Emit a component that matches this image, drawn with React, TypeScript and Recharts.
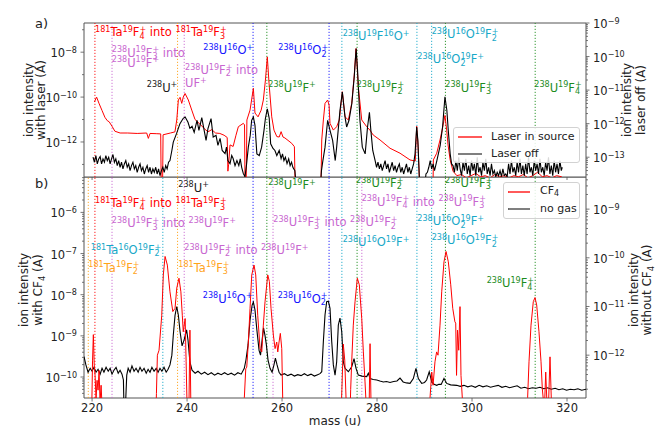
import React from "react";
import { LineChart, Line, XAxis, YAxis, ReferenceLine, ReferenceDot, ReferenceArea, Legend } from "recharts";

const FONT = '"DejaVu Sans", Verdana, sans-serif';
const RED = "#ff0000";
const ORCHID = "#c866d0";
const BLUE = "#1414ff";
const GREEN = "#1c8c1c";
const CYAN = "#17a8c8";
const ORANGE = "#ffa31a";
const INK = "#1a1a1a";
const AXC = "#555";

// ---------------- axes ----------------
const X0 = 218.3;
const X1 = 324.0;
const massTicks = [220, 240, 260, 280, 300, 320];
const aLeftDomain = [-13.56, -6.7];
const aRightDomain = [-13.59, -9.0];
const bLeftDomain = [-10.51, -5.14];
const bRightDomain = [-12.88, -8.34];
const aLeftMajors = [-12, -10, -8];
const aLeftMinors = [-13, -11, -9, -7];
const aRightMajors = [-13, -12, -11, -10, -9];
const bLeftMajors = [-10, -9, -8, -7, -6];
const bRightMajors = [-12, -11, -10, -9];

// ---------------- data: [mass (u), log10 current (A)] ----------------
// panel a, left axis: laser in source
const laserInSource: [number, number][] = [
  [220.48, -10.22], [220.95, -10.0], [221.5, -10.3], [222.1, -10.6], [222.7, -10.9], [223.2, -11.05], [223.6, -11.1],
  [224.2, -11.3], [224.8, -11.52], [225.9, -11.6], [227.5, -11.6], [229.5, -11.62], [231.5, -11.6], [231.85, -11.84],
  [232.2, -11.62], [233.5, -11.63], [234.45, -11.64], [234.55, -13.8], [234.85, -13.8], [234.95, -11.68], [236.5, -11.6],
  [237.45, -11.55], [237.83, -11.02], [238.17, -10.13], [238.53, -10.01], [238.88, -10.28], [239.2, -10.0], [239.58, -9.84],
  [240.27, -10.13], [240.99, -10.58], [241.68, -11.0], [242.7, -11.2], [243.6, -11.4], [244.4, -11.55], [245.2, -11.45],
  [246.0, -11.6], [246.9, -11.62], [247.8, -11.7], [248.45, -11.8], [248.6, -13.3], [248.75, -13.0], [249.05, -12.13],
  [249.7, -12.2], [250.3, -11.7], [250.8, -11.32], [251.85, -11.17], [252.1, -11.24], [252.2, -13.8], [252.45, -13.8],
  [252.6, -11.02], [253.26, -10.58], [253.96, -9.61], [254.3, -10.71], [254.95, -10.88], [255.6, -10.58], [256.06, -10.13],
  [256.5, -9.24], [256.9, -8.21], [257.26, -9.38], [257.83, -10.88], [258.3, -11.47], [258.9, -11.76], [259.4, -11.78],
  [259.8, -11.54], [260.2, -11.78], [260.6, -11.82], [262.04, -12.06], [262.6, -12.21], [262.74, -13.8], [268.2, -13.8],
  [268.36, -11.91], [268.7, -11.02], [269.05, -10.28], [269.6, -10.13], [269.9, -10.36], [270.1, -11.17], [270.8, -11.47],
  [271.5, -11.32], [272.06, -11.02], [272.69, -9.76], [273.26, -10.88], [273.96, -11.02], [274.67, -10.28], [275.2, -9.02],
  [275.58, -7.84], [276.06, -9.54], [276.78, -11.02], [277.83, -11.32], [278.5, -11.47], [279.2, -11.69], [280.63, -11.91],
  [282.74, -12.28], [284.84, -12.5], [286.95, -12.8], [288.05, -12.85], [288.35, -11.3], [288.65, -12.2], [288.9, -13.54],
  [289.1, -13.8], [291.8, -13.8], [291.86, -12.8], [292.57, -12.5], [293.26, -11.91], [293.7, -11.47], [294.3, -10.82],
  [294.67, -11.47], [294.95, -12.13], [295.4, -12.8], [296.0, -13.3], [296.8, -13.5], [297.8, -13.45], [298.8, -13.6],
  [299.8, -13.5], [300.8, -13.4], [301.8, -13.55], [302.8, -13.5], [303.8, -13.6], [304.8, -13.45], [305.8, -13.55],
  [306.8, -13.5], [307.8, -13.6], [308.8, -13.5], [309.8, -13.55], [310.8, -13.45], [311.8, -13.6], [312.8, -13.5],
  [313.8, -13.35], [314.8, -13.55], [315.8, -13.5], [316.8, -13.6], [317.8, -13.5], [318.9, -13.55],
];

// panel a, right axis: laser off
const laserOff: [number, number][] = [
  [220.2, -13.0], [220.5, -13.15], [220.8, -12.95], [221.1, -13.2], [221.4, -13.05], [221.7, -12.98], [222.0, -13.2],
  [222.3, -13.05], [222.6, -13.15], [222.9, -12.95], [223.2, -13.1], [223.5, -13.0], [223.8, -13.2], [224.1, -13.05],
  [224.4, -12.92], [224.7, -13.15], [225.0, -13.05], [225.3, -13.25], [225.6, -13.1], [225.9, -13.3], [226.2, -13.15],
  [226.5, -13.35], [226.8, -13.2], [227.1, -13.1], [227.4, -13.3], [227.7, -13.2], [228.0, -13.4], [228.3, -13.25],
  [228.6, -13.15], [228.9, -13.35], [229.2, -13.25], [229.5, -13.45], [229.8, -13.3], [230.1, -13.2], [230.4, -13.4],
  [230.7, -13.3], [231.0, -13.5], [231.3, -13.35], [231.6, -13.25], [231.9, -13.45], [232.2, -13.3], [232.5, -13.5],
  [232.8, -13.35], [233.1, -13.45], [233.4, -13.3], [233.7, -13.5], [234.0, -13.35], [234.3, -13.55], [234.6, -13.4],
  [234.9, -13.3], [235.2, -13.45], [235.5, -13.25], [235.8, -13.35], [236.1, -13.15], [236.4, -13.1], [236.8, -12.8],
  [237.1, -12.55], [237.8, -12.29], [238.5, -12.0], [239.2, -11.84], [239.6, -11.8], [240.2, -11.96], [240.6, -12.14],
  [241.05, -12.08], [241.5, -12.26], [242.1, -11.9], [242.5, -12.2], [243.1, -11.82], [243.6, -12.2], [244.0, -12.5],
  [244.4, -12.15], [245.05, -11.85], [245.5, -12.4], [246.1, -12.35], [246.5, -12.65], [246.95, -12.44], [247.4, -12.8],
  [248.0, -12.89], [248.3, -12.7], [248.6, -13.1], [249.05, -13.19], [249.4, -12.95], [249.7, -13.04], [250.1, -13.25],
  [250.5, -13.1], [250.9, -13.25], [251.2, -13.05], [251.5, -13.3], [251.85, -13.49], [252.2, -13.58], [252.5, -13.25],
  [252.9, -12.7], [253.3, -12.35], [253.6, -11.9], [253.96, -11.8], [254.3, -12.05], [254.7, -12.9], [255.2, -12.95],
  [255.7, -12.7], [256.2, -12.2], [256.5, -11.84], [256.9, -11.56], [257.3, -11.84], [257.6, -12.6], [258.1, -12.74],
  [258.5, -12.8], [258.9, -12.95], [259.4, -12.8], [259.8, -13.04], [260.1, -12.9], [260.4, -13.1], [260.7, -13.0],
  [261.05, -13.19], [261.4, -13.05], [261.7, -13.25], [262.0, -13.15], [262.3, -13.31], [262.7, -13.4], [262.95, -13.8],
  [268.1, -13.8], [268.3, -13.4], [268.6, -13.1], [269.05, -12.7], [269.6, -11.9], [270.1, -12.2], [270.65, -12.5],
  [271.2, -13.1], [271.5, -12.7], [272.2, -11.6], [272.7, -11.06], [273.26, -11.8], [273.6, -12.1], [274.1, -11.9],
  [274.7, -11.4], [275.2, -10.61], [275.6, -9.76], [275.9, -10.41], [276.4, -11.9], [276.9, -12.7], [277.5, -12.9],
  [278.0, -12.1], [278.4, -11.66], [278.7, -12.2], [279.1, -12.8], [279.6, -13.1], [279.9, -13.3], [280.2, -13.15],
  [280.5, -13.35], [280.8, -13.2], [281.1, -13.4], [281.4, -13.25], [281.7, -13.1], [282.0, -13.35], [282.3, -13.2],
  [282.6, -13.45], [282.9, -13.3], [283.2, -13.15], [283.5, -13.4], [283.8, -13.25], [284.1, -13.45], [284.4, -13.3],
  [284.7, -13.2], [285.0, -13.45], [285.3, -13.3], [285.6, -13.5], [285.9, -13.35], [286.2, -13.2], [286.5, -13.45],
  [286.8, -13.3], [287.1, -13.5], [287.4, -13.35], [287.7, -13.2], [288.0, -12.9], [288.35, -12.1], [288.6, -12.5],
  [288.9, -13.6], [289.1, -13.8], [290.1, -13.8], [290.3, -13.5], [290.6, -13.45], [290.9, -13.3], [291.2, -13.1],
  [291.5, -13.35], [291.8, -13.2], [292.1, -13.4], [292.6, -13.1], [293.3, -12.65], [293.8, -12.1], [294.3, -11.2],
  [294.7, -11.6], [295.0, -12.2], [295.4, -12.9], [295.7, -13.2], [296.0, -13.25], [296.3, -13.45], [296.6, -13.1],
  [296.9, -13.4], [297.2, -13.0], [297.5, -13.35], [297.8, -13.55], [298.1, -13.15], [298.4, -13.4], [298.7, -13.05],
  [299.0, -13.5], [299.3, -13.25], [299.6, -13.55], [299.9, -13.1], [300.2, -13.4], [300.5, -13.2], [300.8, -13.55],
  [301.1, -13.0], [301.4, -13.45], [301.7, -13.3], [302.0, -13.55], [302.3, -13.15], [302.6, -13.4], [302.9, -13.05],
  [303.2, -13.5], [303.5, -13.3], [303.8, -13.55], [304.1, -13.2], [304.4, -13.5], [304.7, -13.4], [305.0, -13.58],
  [305.3, -13.45], [305.6, -13.55], [305.9, -13.4], [306.2, -13.58], [306.5, -13.35], [306.8, -13.55], [307.1, -13.5],
  [307.4, -13.58], [307.7, -13.2], [308.0, -13.5], [308.3, -13.1], [308.6, -13.45], [308.9, -13.3], [309.2, -13.55],
  [309.5, -13.15], [309.8, -13.45], [310.1, -13.05], [310.4, -13.5], [310.7, -13.25], [311.0, -13.55], [311.3, -13.2],
  [311.6, -13.5], [311.9, -13.0], [312.2, -13.45], [312.5, -13.3], [312.8, -13.55], [313.1, -13.1], [313.4, -13.4],
  [313.7, -13.2], [314.0, -13.5], [314.3, -13.05], [314.6, -13.45], [314.9, -13.3], [315.2, -13.55], [315.5, -13.15],
  [315.8, -13.4], [316.1, -13.0], [316.4, -13.5], [316.7, -13.25], [317.0, -13.55], [317.3, -13.1], [317.6, -13.45],
  [317.9, -13.2], [318.2, -13.5], [318.5, -13.1], [318.8, -13.4], [319.0, -13.3],
];

// panel b, left axis: CF4
const cf4: [number, number][] = [
  [218.5, -11], [219.9, -11], [220.1, -9.59], [220.27, -8.97], [220.45, -9.7], [220.63, -9.96], [220.84, -10.52],
  [221.05, -10.08], [221.26, -10.32], [221.47, -9.84], [221.68, -10.6], [221.9, -10.2], [222.1, -10.7], [222.3, -11],
  [233.4, -11], [233.55, -10.4], [233.75, -9.47], [234.1, -9.35], [234.67, -8.5], [235.0, -7.52], [235.37, -7.07],
  [235.85, -7.28], [236.4, -7.93], [237.0, -8.41], [237.47, -8.33], [237.83, -7.84], [238.3, -7.6], [238.7, -7.93],
  [239.0, -8.5], [239.2, -8.9], [239.6, -8.58], [239.8, -9.63], [240.0, -10.7], [240.4, -10.7], [240.6, -8.86],
  [240.8, -10.7], [241.0, -11], [251.9, -11], [252.06, -10.5], [252.36, -9.8], [252.57, -9.76], [252.91, -9.15],
  [253.26, -8.33], [253.62, -7.52], [254.1, -7.28], [254.46, -7.52], [254.88, -8.5], [255.37, -9.31], [255.73, -9.39],
  [256.06, -8.74], [256.42, -8.17], [256.99, -7.52], [257.33, -7.68], [257.68, -8.33], [258.17, -8.98], [258.53, -9.31],
  [258.88, -9.15], [259.1, -9.39], [259.37, -9.15], [259.64, -8.94], [259.94, -9.31], [260.15, -10.6], [260.3, -11],
  [272.4, -11], [272.6, -10.3], [272.9, -9.2], [273.2, -9.59], [273.5, -10.6], [273.7, -11], [274.3, -11],
  [274.45, -10.3], [274.67, -9.63], [275.0, -8.74], [275.37, -8.17], [275.85, -7.6], [276.27, -7.76], [276.78, -8.58],
  [277.12, -9.39], [277.47, -10.12], [277.68, -10.6], [277.8, -11], [278.3, -11], [278.53, -9.19], [278.74, -10.7],
  [278.9, -11], [291.0, -11], [291.16, -10.5], [291.52, -9.88], [291.8, -10.2], [292.2, -9.63], [292.55, -9.39],
  [292.84, -9.47], [293.26, -8.74], [293.62, -7.93], [294.1, -7.2], [294.53, -6.95], [295.01, -7.2], [295.52, -7.76],
  [295.94, -8.33], [296.4, -8.66], [296.57, -8.69], [296.74, -9.96], [296.95, -8.86], [297.2, -9.35], [297.47, -8.29],
  [297.68, -9.96], [298.0, -10.6], [298.2, -11], [311.6, -11], [311.71, -10.5], [312.0, -9.63], [312.42, -8.74],
  [312.9, -8.17], [313.26, -8.07], [313.62, -8.25], [314.1, -8.9], [314.53, -9.63], [314.8, -10.28], [315.05, -10.6],
  [315.3, -10.6], [315.52, -9.88], [315.8, -10.7], [316.1, -10.7], [316.42, -9.51], [316.74, -10.7], [316.9, -11],
  [324.0, -11],
];

// panel b, right axis: no gas
const noGas: [number, number][] = [
  [218.3, -12.03], [218.7, -12.2], [219.16, -12.35], [219.6, -12.27], [220.0, -12.33], [220.4, -12.25], [220.84, -12.35],
  [221.26, -12.29], [221.7, -12.39], [222.1, -12.27], [222.5, -12.35], [222.95, -12.25], [223.4, -12.33], [223.8, -12.27],
  [224.2, -12.39], [224.6, -12.31], [225.05, -12.25], [225.5, -12.37], [225.9, -12.31], [226.3, -12.39], [226.6, -12.51],
  [226.7, -13.0], [227.05, -13.0], [227.3, -12.41], [227.6, -12.27], [228.0, -12.35], [228.4, -12.22], [228.84, -12.33],
  [229.26, -12.27], [229.7, -12.35], [230.1, -12.25], [230.5, -12.33], [230.95, -12.27], [231.4, -12.37], [231.8, -12.29],
  [232.2, -12.35], [232.6, -12.25], [233.05, -12.33], [233.5, -12.27], [233.9, -12.35], [234.3, -12.27], [234.7, -12.33],
  [235.15, -12.25], [235.6, -12.35], [236.0, -12.29], [236.4, -12.2], [236.8, -12.0], [237.1, -11.59], [237.47, -11.18],
  [237.83, -11.0], [238.17, -11.18], [238.53, -11.52], [238.95, -11.81], [239.37, -11.69], [239.9, -11.48], [240.2, -11.69],
  [240.6, -12.14], [241.05, -12.31], [241.7, -12.37], [242.3, -12.33], [243.0, -12.39], [243.7, -12.35], [244.4, -12.4],
  [245.1, -12.36], [245.8, -12.41], [246.5, -12.37], [247.2, -12.4], [247.9, -12.36], [248.6, -12.4], [249.3, -12.37],
  [250.0, -12.41], [250.7, -12.36], [251.4, -12.39], [252.05, -12.27], [252.4, -12.1], [252.84, -11.79], [253.26, -11.28],
  [253.7, -10.97], [253.96, -10.91], [254.3, -11.07], [254.7, -11.48], [255.16, -11.9], [255.47, -12.0], [255.8, -11.69],
  [256.1, -11.44], [256.4, -11.59], [256.7, -11.79], [257.05, -12.1], [257.47, -12.27], [257.9, -12.35], [258.3, -12.2],
  [258.6, -12.06], [258.95, -12.2], [259.37, -12.35], [259.8, -12.41], [260.5, -12.38], [261.2, -12.42], [261.9, -12.39],
  [262.6, -12.43], [263.3, -12.4], [264.0, -12.42], [264.7, -12.38], [265.4, -12.42], [266.1, -12.39], [266.8, -12.43],
  [267.5, -12.4], [268.0, -12.38], [268.36, -12.34], [268.7, -11.72], [269.05, -11.17], [269.4, -10.9], [269.75, -10.89],
  [270.1, -11.04], [270.46, -11.72], [270.8, -12.2], [271.16, -12.41], [271.5, -12.14], [271.85, -11.38], [272.2, -11.24],
  [272.57, -11.52], [272.9, -12.14], [273.26, -12.27], [273.96, -12.34], [274.67, -12.24], [275.16, -12.07], [275.58, -12.27],
  [276.06, -12.41], [276.84, -12.43], [277.83, -12.44], [278.17, -12.37], [278.53, -12.48], [279.2, -12.5], [279.94, -12.51],
  [280.6, -12.53], [281.33, -12.55], [282.0, -12.54], [282.74, -12.56], [283.5, -12.54], [284.2, -12.53], [284.84, -12.47],
  [285.5, -12.55], [286.2, -12.57], [286.95, -12.58], [287.64, -12.48], [288.2, -12.27], [288.7, -12.48], [289.4, -12.58],
  [290.0, -12.56], [290.44, -12.51], [290.99, -12.34], [291.52, -12.55], [292.0, -12.6], [292.57, -12.62], [293.0, -12.6],
  [293.5, -12.6], [294.1, -12.48], [294.67, -12.58], [295.5, -12.61], [296.78, -12.62], [297.5, -12.64], [298.3, -12.62],
  [299.1, -12.65], [299.9, -12.63], [300.7, -12.66], [301.5, -12.62], [302.3, -12.65], [303.1, -12.63], [303.9, -12.66],
  [304.7, -12.64], [305.5, -12.62], [306.3, -12.66], [307.1, -12.64], [307.9, -12.67], [308.7, -12.65], [309.5, -12.63],
  [310.3, -12.68], [311.1, -12.66], [311.9, -12.69], [312.7, -12.67], [313.5, -12.68], [314.3, -12.66], [315.1, -12.69],
  [315.9, -12.67], [316.7, -12.7], [317.5, -12.68], [318.3, -12.71], [319.1, -12.69], [319.9, -12.72], [320.7, -12.7],
  [321.5, -12.71], [322.3, -12.69], [323.1, -12.72], [324.0, -12.7],
];

// ---------------- guide lines (mass, colour) ----------------
const guidesA: [number, string][] = [
  [220.6, RED], [224.2, ORCHID], [238.0, ORANGE], [239.4, ORCHID], [253.9, BLUE], [256.8, GREEN], [269.9, BLUE],
  [272.6, CYAN], [275.8, GREEN], [288.4, CYAN], [291.5, CYAN], [294.4, GREEN], [313.3, GREEN],
];
const guidesB: [number, string][] = [
  [219.2, ORANGE], [220.6, RED], [224.2, ORCHID], [234.9, CYAN], [238.0, ORANGE], [239.4, ORCHID], [253.9, BLUE],
  [256.8, GREEN], [258.1, ORCHID], [269.9, BLUE], [272.6, CYAN], [275.8, GREEN], [276.8, ORCHID], [288.4, CYAN],
  [291.5, CYAN], [294.4, GREEN], [313.3, GREEN],
];

// ---------------- annotations (text, colour, anchor mass, anchor log10 on left axis) ----------------
type Ann = { t: string; c: string; m: number; e: number };
const annA: Ann[] = [
  { t: "^{181}Ta^{19}F_{4}^{+} into ^{181}Ta^{19}F_{3}^{+}", c: RED, m: 220.63, e: -7.28 },
  { t: "^{238}U^{19}F_{3}^{+} into", c: ORCHID, m: 224.15, e: -8.2 },
  { t: "^{238}U^{19}F^{+}", c: ORCHID, m: 224.15, e: -8.65 },
  { t: "^{238}U^{16}O^{+}", c: BLUE, m: 243.43, e: -8.08 },
  { t: "^{238}U^{16}O_{2}^{+}", c: BLUE, m: 259.22, e: -8.08 },
  { t: "^{238}U^{19}F_{2}^{+} into", c: ORCHID, m: 239.58, e: -8.97 },
  { t: "UF^{+}", c: ORCHID, m: 239.58, e: -9.56 },
  { t: "^{238}U^{+}", c: INK, m: 231.52, e: -9.76 },
  { t: "^{238}U^{19}F^{+}", c: GREEN, m: 257.12, e: -9.76 },
  { t: "^{238}U^{19}F^{16}O^{+}", c: CYAN, m: 272.78, e: -7.46 },
  { t: "^{238}U^{16}O^{19}F_{2}^{+}", c: CYAN, m: 291.52, e: -7.37 },
  { t: "^{238}U^{16}O_{2}^{19}F^{+}", c: CYAN, m: 288.48, e: -8.5 },
  { t: "^{238}U^{19}F_{2}^{+}", c: GREEN, m: 275.73, e: -9.76 },
  { t: "^{238}U^{19}F_{3}^{+}", c: GREEN, m: 294.38, e: -9.76 },
  { t: "^{238}U^{19}F_{4}^{+}", c: GREEN, m: 313.12, e: -9.76 },
];
const annB: Ann[] = [
  { t: "^{238}U^{+}", c: INK, m: 238.17, e: -5.5 },
  { t: "^{181}Ta^{19}F_{4}^{+} into ^{181}Ta^{19}F_{3}^{+}", c: RED, m: 220.63, e: -5.88 },
  { t: "^{238}U^{19}F_{3}^{+} into ^{238}U^{19}F^{+}", c: ORCHID, m: 224.15, e: -6.36 },
  { t: "^{181}Ta^{16}O^{19}F_{2}^{+}", c: CYAN, m: 219.73, e: -7.01 },
  { t: "^{181}Ta^{19}F_{2}^{+}", c: ORANGE, m: 219.22, e: -7.44 },
  { t: "^{238}U^{19}F_{2}^{+} into ^{238}U^{19}F^{+}", c: ORCHID, m: 239.43, e: -7.01 },
  { t: "^{181}Ta^{19}F_{3}^{+}", c: ORANGE, m: 238.17, e: -7.44 },
  { t: "^{238}U^{16}O^{+}", c: BLUE, m: 243.31, e: -8.19 },
  { t: "^{238}U^{16}O_{2}^{+}", c: BLUE, m: 259.09, e: -8.19 },
  { t: "^{238}U^{19}F^{+}", c: GREEN, m: 257.12, e: -5.43 },
  { t: "^{238}U^{19}F_{3}^{+} into ^{238}U^{19}F_{2}^{+}", c: ORCHID, m: 258.17, e: -6.33 },
  { t: "^{238}U^{19}F_{2}^{+}", c: GREEN, m: 275.58, e: -5.38 },
  { t: "^{238}U^{19}F_{4}^{+} into ^{238}U^{19}F_{3}^{+}", c: ORCHID, m: 276.78, e: -5.84 },
  { t: "^{238}U^{16}O^{19}F^{+}", c: CYAN, m: 272.78, e: -6.82 },
  { t: "^{238}U^{19}F_{3}^{+}", c: GREEN, m: 294.32, e: -5.38 },
  { t: "^{238}U^{16}O_{2}^{19}F^{+}", c: CYAN, m: 288.48, e: -6.31 },
  { t: "^{238}U^{16}O^{19}F_{2}^{+}", c: CYAN, m: 291.52, e: -6.77 },
  { t: "^{238}U^{19}F_{4}^{+}", c: GREEN, m: 303.09, e: -7.82 },
];

// ---------------- helpers ----------------
const p10 = (e: number) => Math.pow(10, e);
const pts = (arr: [number, number][]) => arr.map(([m, e]) => ({ m, v: p10(e) }));

type Seg = { t: string; k: "n" | "sup" | "sub" | "stack"; t2?: string };
function parseChem(s: string): Seg[] {
  const segs: Seg[] = [];
  let i = 0;
  let buf = "";
  const flush = () => {
    if (buf) segs.push({ t: buf, k: "n" });
    buf = "";
  };
  while (i < s.length) {
    const c = s[i];
    if ((c === "^" || c === "_") && s[i + 1] === "{") {
      const end = s.indexOf("}", i);
      const content = s.slice(i + 2, end);
      flush();
      if (c === "_" && s[end + 1] === "^" && s[end + 2] === "{") {
        const end2 = s.indexOf("}", end + 1);
        segs.push({ t: content, k: "stack", t2: s.slice(end + 3, end2) });
        i = end2 + 1;
      } else {
        segs.push({ t: content, k: c === "^" ? "sup" : "sub" });
        i = end + 1;
      }
    } else {
      buf += c;
      i++;
    }
  }
  flush();
  return segs;
}

function Chem({ x, y, text, color, fs, anchor }: { x: number; y: number; text: string; color: string; fs: number; anchor?: string }) {
  const segs = parseChem(text);
  const small = fs * 0.7;
  const up = -fs * 0.38;
  const down = fs * 0.22;
  let cur = 0;
  const out: React.ReactNode[] = [];
  segs.forEach((sg, i) => {
    if (sg.k === "n") {
      out.push(<tspan key={i} dy={-cur} fontSize={fs}>{sg.t}</tspan>);
      cur = 0;
    } else if (sg.k === "sup") {
      out.push(<tspan key={i} dy={up - cur} fontSize={small}>{sg.t}</tspan>);
      cur = up;
    } else if (sg.k === "sub") {
      out.push(<tspan key={i} dy={down - cur} fontSize={small}>{sg.t}</tspan>);
      cur = down;
    } else {
      const w = sg.t.length * small * 0.636;
      out.push(<tspan key={i + "a"} dy={down - cur} fontSize={small}>{sg.t}</tspan>);
      out.push(<tspan key={i + "b"} dx={-w} dy={up - down} fontSize={small}>{sg.t2}</tspan>);
      cur = up;
    }
  });
  return (
    <text x={x} y={y} fill={color} fontFamily={FONT} fontSize={fs} textAnchor={anchor || "start"} style={{ whiteSpace: "pre" }}>
      {out}
    </text>
  );
}

function buildTicks(domain: number[], majors: number[], extraMinors: number[] | null) {
  const vals: number[] = [];
  if (extraMinors) {
    [...majors, ...extraMinors].forEach((e) => {
      if (e >= domain[0] && e <= domain[1]) vals.push(p10(e));
    });
  } else {
    for (let d = Math.floor(domain[0]); d <= Math.ceil(domain[1]); d++) {
      for (let k = 1; k <= 9; k++) {
        const e = d + Math.log10(k);
        if (e >= domain[0] && e <= domain[1]) vals.push(p10(e));
      }
    }
  }
  return vals.sort((a, b) => a - b);
}

function LogTick(props: any) {
  const { x, y, payload, side, majors } = props;
  const e = Math.log10(payload.value);
  const isMajor = majors.some((m: number) => Math.abs(m - e) < 1e-6);
  const dir = side === "left" ? -1 : 1;
  const len = isMajor ? 3.5 : 2;
  return (
    <g>
      <line x1={x} x2={x + dir * len} y1={y} y2={y} stroke={AXC} strokeWidth={0.8} />
      {isMajor && (
        <Chem x={x + dir * 7} y={y + 5} text={`10^{−${Math.round(-e)}}`} color="#222" fs={11.5} anchor={side === "left" ? "end" : "start"} />
      )}
    </g>
  );
}

const annLabel = (a: Ann) => (p: any) => {
  const vb = (p && p.viewBox) || {};
  const x = (vb.x ?? 0) + (vb.width ?? 0) / 2;
  const y = (vb.y ?? 0) + (vb.height ?? 0) / 2;
  return <Chem x={x} y={y} text={a.t} color={a.c} fs={11.5} />;
};

function Title2({ cx1, cx2, cy, l1, l2 }: { cx1: number; cx2: number; cy: number; l1: string; l2: string }) {
  return (
    <g>
      <g transform={`rotate(-90, ${cx1}, ${cy})`}>
        <Chem x={cx1} y={cy} text={l1} color="#222" fs={12} anchor="middle" />
      </g>
      <g transform={`rotate(-90, ${cx2}, ${cy})`}>
        <Chem x={cx2} y={cy} text={l2} color="#222" fs={12} anchor="middle" />
      </g>
    </g>
  );
}

function LegendBox({ items, lineW, gap }: { items: { label: React.ReactNode; color: string }[]; lineW: number; gap: number }) {
  return (
    <div
      style={{
        boxSizing: "border-box",
        width: "100%",
        height: "100%",
        border: "1px solid #d2d2d2",
        borderRadius: 3,
        background: "rgba(255,255,255,0.85)",
        padding: "1px 0 0 4px",
        fontFamily: FONT,
        fontSize: 11,
        color: "#222",
        lineHeight: "16px",
      }}
    >
      {items.map((it, i) => (
        <div key={i} style={{ display: "flex", alignItems: "center", height: 16.5 }}>
          <svg width={lineW} height={4} style={{ display: "block" }}>
            <line x1={0} x2={lineW} y1={2} y2={2} stroke={it.color} strokeWidth={1.3} />
          </svg>
          <span style={{ marginLeft: gap, whiteSpace: "nowrap" }}>{it.label}</span>
        </div>
      ))}
    </div>
  );
}

const aLTicks = buildTicks(aLeftDomain, aLeftMajors, aLeftMinors);
const aRTicks = buildTicks(aRightDomain, aRightMajors, null);
const bLTicks = buildTicks(bLeftDomain, bLeftMajors, null);
const bRTicks = buildTicks(bRightDomain, bRightMajors, null);

function PanelA() {
  return (
    <LineChart width={657} height={180} margin={{ top: 23, right: 0, bottom: 0, left: 0 }}>
      <XAxis
        type="number"
        dataKey="m"
        domain={[X0, X1]}
        allowDataOverflow
        ticks={massTicks}
        interval={0}
        tickFormatter={() => ""}
        height={3}
        tickSize={3.5}
        axisLine={false}
        tickLine={{ stroke: AXC, strokeWidth: 0.8 }}
      />
      <YAxis
        yAxisId="L"
        orientation="left"
        scale="log"
        type="number"
        domain={[p10(aLeftDomain[0]), p10(aLeftDomain[1])]}
        allowDataOverflow
        ticks={aLTicks}
        interval={0}
        width={84}
        axisLine={false}
        tickLine={false}
        tickSize={0}
        tickMargin={0}
        tick={<LogTick side="left" majors={aLeftMajors} />}
        label={() => (
          <g>
            <text x={35} y={28} fontSize={13} fontFamily={FONT} fill="#222">a)</text>
            <Title2 cx1={33.1} cx2={44.8} cy={100} l1="ion intensity" l2="with laser (A)" />
          </g>
        )}
      />
      <YAxis
        yAxisId="R"
        orientation="right"
        scale="log"
        type="number"
        domain={[p10(aRightDomain[0]), p10(aRightDomain[1])]}
        allowDataOverflow
        ticks={aRTicks}
        interval={0}
        width={71}
        axisLine={false}
        tickLine={false}
        tickSize={0}
        tickMargin={0}
        tick={<LogTick side="right" majors={aRightMajors} />}
        label={() => <Title2 cx1={631.4} cx2={644.8} cy={100} l1="ion intensity" l2="laser off (A)" />}
      />
      {guidesA.map(([m, c], i) => (
        <ReferenceLine key={"g" + i} yAxisId="L" x={m} stroke={c} strokeWidth={0.9} strokeDasharray="1.2 1.8" />
      ))}
      <Line yAxisId="L" data={pts(laserInSource)} dataKey="v" name="Laser in source" stroke={RED} strokeWidth={1} dot={false} isAnimationActive={false} />
      <Line yAxisId="R" data={pts(laserOff)} dataKey="v" name="Laser off" stroke="#000" strokeWidth={1.1} dot={false} isAnimationActive={false} />
      <ReferenceArea
        yAxisId="L"
        x1={X0}
        x2={X1}
        y1={p10(aLeftDomain[0])}
        y2={p10(aLeftDomain[1])}
        fill="none"
        stroke={AXC}
        strokeWidth={1}
        ifOverflow="visible"
      />
      {annA.map((a, i) => (
        <ReferenceDot key={"a" + i} yAxisId="L" x={a.m} y={p10(a.e)} r={1} fill="none" stroke="none" label={annLabel(a)} />
      ))}
      <Legend
        layout="vertical"
        align="center"
        verticalAlign="middle"
        wrapperStyle={{ left: 453, top: 127, width: 127, height: 36 }}
        content={() => (
          <LegendBox
            lineW={24}
            gap={9}
            items={[
              { label: "Laser in source", color: RED },
              { label: "Laser off", color: "#3a3a3a" },
            ]}
          />
        )}
      />
    </LineChart>
  );
}

function PanelB() {
  return (
    <LineChart width={657} height={252} margin={{ top: 0, right: 0, bottom: 0, left: 0 }}>
      <XAxis
        type="number"
        dataKey="m"
        domain={[X0, X1]}
        allowDataOverflow
        ticks={massTicks}
        interval={0}
        height={31}
        tickSize={3.5}
        tickMargin={2}
        axisLine={false}
        tickLine={{ stroke: AXC, strokeWidth: 0.8 }}
        tick={{ fontSize: 11.5, fill: "#222", fontFamily: FONT }}
        label={{ value: "mass (u)", position: "insideBottom", offset: 4, fontSize: 12, fill: "#222", fontFamily: FONT }}
      />
      <YAxis
        yAxisId="L"
        orientation="left"
        scale="log"
        type="number"
        domain={[p10(bLeftDomain[0]), p10(bLeftDomain[1])]}
        allowDataOverflow
        ticks={bLTicks}
        interval={0}
        width={84}
        axisLine={false}
        tickLine={false}
        tickSize={0}
        tickMargin={0}
        tick={<LogTick side="left" majors={bLeftMajors} />}
        label={() => (
          <g>
            <text x={35} y={10.5} fontSize={13} fontFamily={FONT} fill="#222">b)</text>
            <Title2 cx1={28.1} cx2={42.3} cy={113} l1="ion intensity" l2="with CF_{4} (A)" />
          </g>
        )}
      />
      <YAxis
        yAxisId="R"
        orientation="right"
        scale="log"
        type="number"
        domain={[p10(bRightDomain[0]), p10(bRightDomain[1])]}
        allowDataOverflow
        ticks={bRTicks}
        interval={0}
        width={71}
        axisLine={false}
        tickLine={false}
        tickSize={0}
        tickMargin={0}
        tick={<LogTick side="right" majors={bRightMajors} />}
        label={() => <Title2 cx1={638.1} cx2={651.4} cy={113} l1="ion intensity" l2="without CF_{4} (A)" />}
      />
      {guidesB.map(([m, c], i) => (
        <ReferenceLine key={"g" + i} yAxisId="L" x={m} stroke={c} strokeWidth={0.9} strokeDasharray="1.2 1.8" />
      ))}
      <Line yAxisId="R" data={pts(noGas)} dataKey="v" name="no gas" stroke="#000" strokeWidth={1.1} dot={false} isAnimationActive={false} />
      <Line yAxisId="L" data={pts(cf4)} dataKey="v" name="CF4" stroke={RED} strokeWidth={1} dot={false} isAnimationActive={false} />
      <ReferenceArea
        yAxisId="L"
        x1={X0}
        x2={X1}
        y1={p10(bLeftDomain[0])}
        y2={p10(bLeftDomain[1])}
        fill="none"
        stroke={AXC}
        strokeWidth={1}
        ifOverflow="visible"
      />
      {annB.map((a, i) => (
        <ReferenceDot key={"b" + i} yAxisId="L" x={a.m} y={p10(a.e)} r={1} fill="none" stroke="none" label={annLabel(a)} />
      ))}
      <Legend
        layout="vertical"
        align="center"
        verticalAlign="middle"
        wrapperStyle={{ left: 503, top: 5, width: 77, height: 37 }}
        content={() => (
          <LegendBox
            lineW={22}
            gap={10}
            items={[
              { label: <span>CF<sub style={{ fontSize: 8, verticalAlign: "-2px" }}>4</sub></span>, color: RED },
              { label: "no gas", color: "#3a3a3a" },
            ]}
          />
        )}
      />
    </LineChart>
  );
}

export default function App() {
  return (
    <div style={{ position: "absolute", left: 0, top: 0, width: 657, height: 429, background: "#fff", fontFamily: FONT }}>
      <div style={{ position: "absolute", left: 0, top: 0 }}>
        <PanelA />
      </div>
      <div style={{ position: "absolute", left: 0, top: 177 }}>
        <PanelB />
      </div>
    </div>
  );
}
